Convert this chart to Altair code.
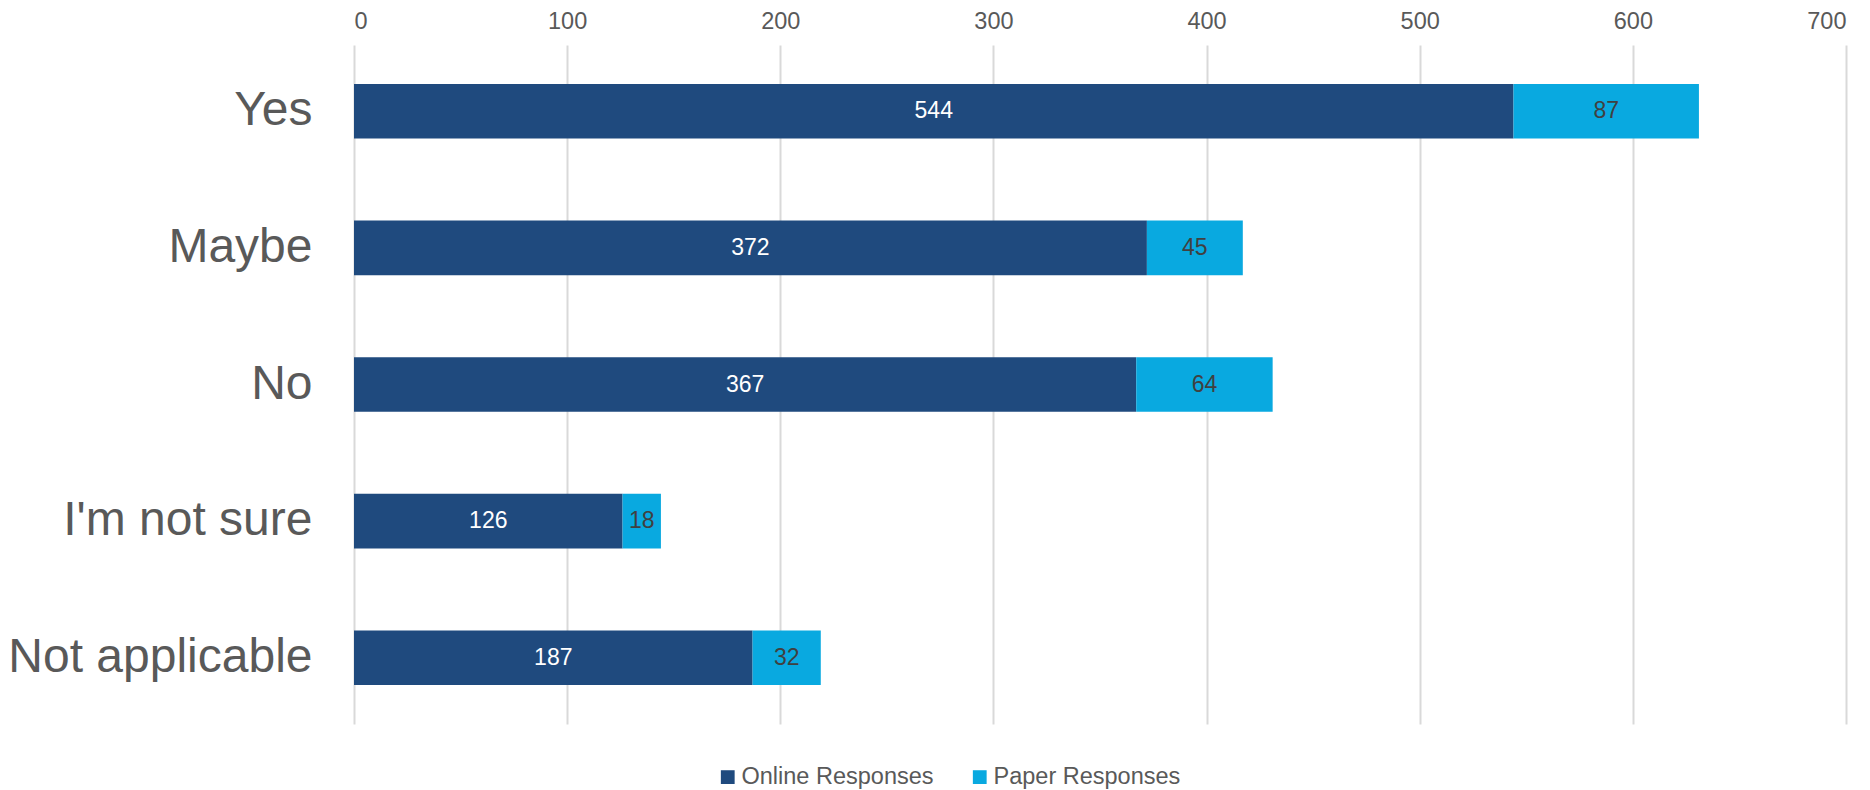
import altair as alt
import pandas as pd

categories = ["Yes", "Maybe", "No", "I'm not sure", "Not applicable"]
online = [544, 372, 367, 126, 187]
paper = [87, 45, 64, 18, 32]
series = ["Online Responses", "Paper Responses"]
x_ticks = [0, 100, 200, 300, 400, 500, 600, 700]

rows = []
for c, o, p in zip(categories, online, paper):
    rows.append({"category": c, "series": series[0], "value": o, "order": 0})
    rows.append({"category": c, "series": series[1], "value": p, "order": 1})
df = pd.DataFrame(rows)

DARK = "#1F4A7E"
LIGHT = "#09A9E0"
FONT = "Liberation Sans"

base = alt.Chart(df).transform_stack(
    stack="value",
    groupby=["category"],
    sort=[alt.SortField("order", order="ascending")],
    as_=["x1", "x2"],
).transform_calculate(mid="(datum.x1 + datum.x2) / 2")

y_enc = alt.Y(
    "category:N",
    sort=categories,
    title=None,
    scale=alt.Scale(paddingInner=0.6, paddingOuter=0.285),
    axis=alt.Axis(
        labelFont=FONT,
        labelFontSize=48,
        labelColor="#595959",
        labelPadding=42,
        ticks=False,
        domain=False,
        grid=False,
        labelLimit=400,
    ),
)

bars = base.mark_bar().encode(
    x=alt.X(
        "x1:Q",
        title=None,
        scale=alt.Scale(domain=[0, 700], nice=False),
        axis=alt.Axis(
            orient="top",
            values=x_ticks,
            labelFont=FONT,
            labelFontSize=23.5,
            labelColor="#595959",
            labelPadding=12,
            ticks=False,
            domain=False,
            grid=True,
            gridColor="#D9D9D9",
            gridWidth=2,
        ),
    ),
    x2="x2:Q",
    y=y_enc,
    color=alt.Color(
        "series:N",
        scale=alt.Scale(domain=series, range=[DARK, LIGHT]),
        legend=alt.Legend(
            title=None,
            orient="none",
            direction="horizontal",
            legendX=362,
            legendY=720,
            symbolType="square",
            symbolSize=190,
            symbolStrokeWidth=0,
            labelFont=FONT,
            labelFontSize=23.5,
            labelColor="#595959",
            labelOffset=2,
            labelLimit=400,
            columnPadding=34,
            padding=0,
        ),
    ),
    order=alt.Order("order:Q"),
)

labels = base.mark_text(font=FONT, fontSize=23).encode(
    x=alt.X("mid:Q"),
    y=alt.Y("category:N", sort=categories),
    text=alt.Text("value:Q"),
    color=alt.Color(
        "series:N",
        scale=alt.Scale(domain=series, range=["#FFFFFF", "#404040"]),
        legend=None,
    ),
)

chart = (
    alt.layer(bars, labels)
    .resolve_scale(color="independent")
    .properties(
        width=1492,
        height=679,
        autosize=alt.AutoSizeParams(type="none"),
        padding={"left": 346, "top": 37, "right": 16, "bottom": 66},
        background="white",
    )
    .configure_view(stroke=None)
)

chart.save("out.html", embed_options={"renderer": "svg", "actions": False})
